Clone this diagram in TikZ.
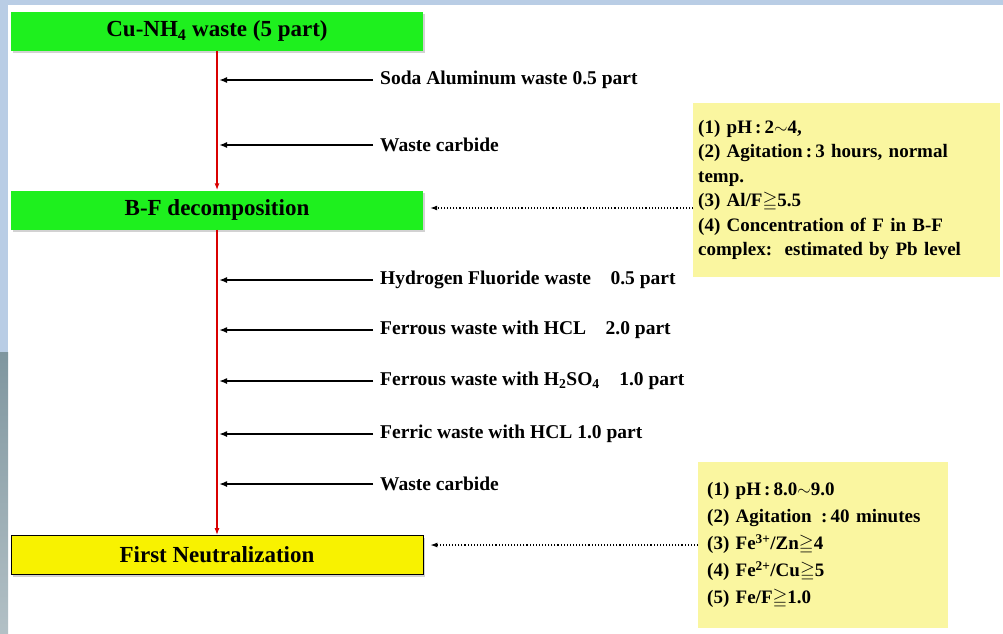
\documentclass[tikz,border=0pt]{standalone}
\usepackage{fontspec}
\setmainfont{Liberation Serif}
\usepackage{amssymb}
\usetikzlibrary{arrows.meta,positioning,shadows}
\definecolor{slideblue}{HTML}{B9CDE5}
\definecolor{slidegrey}{HTML}{7F969F}
\definecolor{procgreen}{HTML}{1EF01E}
\definecolor{procyellow}{HTML}{F8F200}
\definecolor{noteyellow}{HTML}{FAF6A0}

\begin{document}
\begin{tikzpicture}[x=1pt,y=-1pt,
  box/.style={minimum width=412pt,minimum height=39pt,inner sep=0pt,
    font=\fontsize{23}{26}\selectfont\bfseries,
    drop shadow={shadow xshift=2pt,shadow yshift=-2pt,fill=black!35}},
  greenbox/.style={box,fill=procgreen},
  yellowbox/.style={box,fill=procyellow,draw=black,thick},
  note/.style={fill=noteyellow,anchor=north west,align=left,
    font=\fontsize{19}{24.5}\selectfont\bfseries},
  feed/.style={anchor=west,inner sep=0pt,font=\fontsize{19.5}{22}\selectfont\bfseries},
  arr/.style={-{Latex[length=8pt,width=6pt]},line width=1.8pt,shorten >=2pt},
  flow/.style={-{Latex[length=7pt,width=5pt]},red!85!black,line width=1.6pt},
  dotarr/.style={-{Latex[length=7pt,width=5pt]},dotted,line width=1.1pt,shorten >=7pt}
]
\useasboundingbox (0,0) rectangle (1003,633);
% slide background
\fill[slideblue] (0,0) rectangle (1003,633);
\fill[white] (8,5) rectangle (1003,633);
\shade[top color=slidegrey,bottom color=slidegrey!60!white] (0,352) rectangle (8,633);

% process steps
\node[greenbox] (cunh) at (217,31) {Cu-NH\textsubscript{4} waste (5 part)};
\node[greenbox] (bf) at (217,210) {B-F decomposition};
\node[yellowbox] (neut) at (217,555) {First Neutralization};
\draw[flow] (cunh.south) -- (bf.north);
\draw[flow] (bf.south) -- (neut.north);

% feeds
\node[feed] (soda) at (380,80) {Soda Aluminum waste 0.5 part};
\node[feed] (carb1) at (380,145) {Waste carbide};
\node[feed] (hf) at (380,280) {Hydrogen Fluoride waste\quad 0.5 part};
\node[feed] (fehcl) at (380,330) {Ferrous waste with HCL\quad 2.0 part};
\node[feed] (feso) at (380,381) {Ferrous waste with H\textsubscript{2}SO\textsubscript{4}\quad 1.0 part};
\node[feed] (ferric) at (380,434) {Ferric waste with HCL 1.0 part};
\node[feed] (carb2) at (380,484) {Waste carbide};
\foreach \f in {soda,carb1}
  \draw[arr] ([xshift=-7pt]\f.west) -- (\f.west -| cunh.south);
\foreach \f in {hf,fehcl,feso,ferric,carb2}
  \draw[arr] ([xshift=-7pt]\f.west) -- (\f.west -| bf.south);

% conditions
\node[note,text width=297pt,minimum height=174pt,inner xsep=5pt,inner ysep=0pt] (cond1) at (693,103)
  {(1) pH\,:\,2$\sim$4,\\
   (2) Agitation\,:\,3 hours, normal\\
   temp.\\
   (3) Al/F$\geqq$5.5\\
   (4) Concentration of F in B-F\\
   complex:\ \ estimated by Pb level};
\node[note,text width=232pt,minimum height=166pt,inner xsep=9pt,inner ysep=0pt,
  font=\fontsize{19}{27}\selectfont\bfseries] (cond2) at (698,462)
  {(1) pH\,:\,8.0$\sim$9.0\\
   (2) Agitation\ \,:\,40 minutes\\
   (3) Fe\textsuperscript{3+}/Zn$\geqq$4\\
   (4) Fe\textsuperscript{2+}/Cu$\geqq$5\\
   (5) Fe/F$\geqq$1.0};
\draw[dotarr] ([yshift=2pt]bf.east -| cond1.west) -- ([yshift=2pt]bf.east);
\draw[dotarr] ([yshift=10pt]neut.east -| cond2.west) -- ([yshift=10pt]neut.east);
\end{tikzpicture}
\end{document}
